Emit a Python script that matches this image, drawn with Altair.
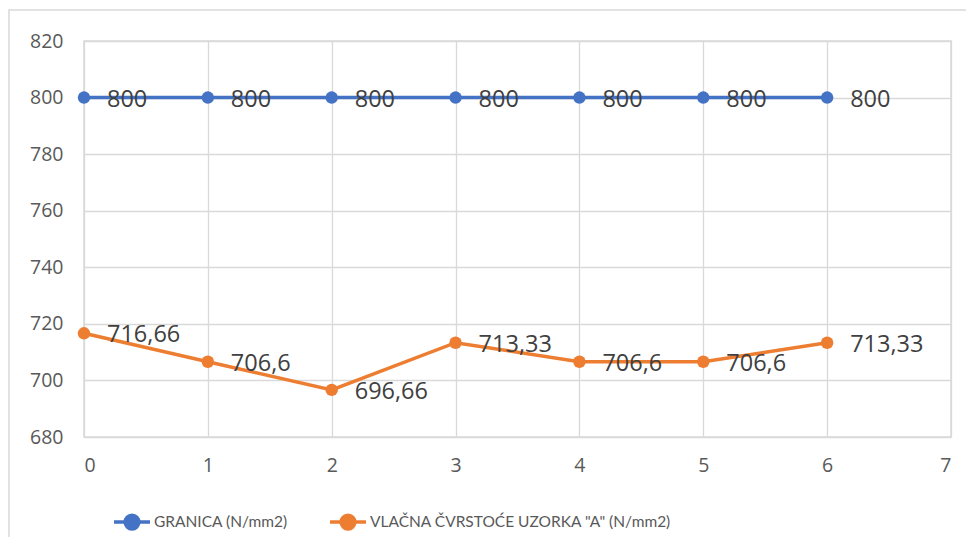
import altair as alt
import pandas as pd

x_vals = [0, 1, 2, 3, 4, 5, 6]
granica = [800, 800, 800, 800, 800, 800, 800]
vlacna = [716.66, 706.6, 696.66, 713.33, 706.6, 706.6, 713.33]
series = ["GRANICA (N/mm2)", 'VLAČNA ČVRSTOĆE UZORKA "A" (N/mm2)']
colors = ["#4472C4", "#ED7D31"]
y_ticks = [680, 700, 720, 740, 760, 780, 800, 820]
x_ticks = [0, 1, 2, 3, 4, 5, 6, 7]

rows = []
for name, vals in zip(series, [granica, vlacna]):
    for x, v in zip(x_vals, vals):
        rows.append({"x": x, "y": v, "s": name, "lab": f"{v:g}".replace(".", ",")})
df = pd.DataFrame(rows)

FONT = "Open Sans"
LFONT = "Lato"
AX = "#595959"
GRID = "#D9D9D9"

xs = alt.X("x:Q", scale=alt.Scale(domain=[0, 7], nice=False),
           axis=alt.Axis(values=x_ticks, title=None, grid=True, domain=False, ticks=False,
                         labelPadding=19, labelFontSize=19.5, labelColor=AX, labelFont=FONT,
                         gridColor=GRID, gridWidth=1.3))
ys = alt.Y("y:Q", scale=alt.Scale(domain=[680, 820], nice=False, zero=False),
           axis=alt.Axis(values=y_ticks, title=None, grid=True, domain=False, ticks=False,
                         labelPadding=21, labelFontSize=19.5, labelColor=AX, labelFont=FONT,
                         gridColor=GRID, gridWidth=1.3))
cscale = alt.Scale(domain=series, range=colors)

sym = "M-1,0L1,0M-0.38,0A0.38,0.38,0,1,1,0.38,0A0.38,0.38,0,1,1,-0.38,0Z"

base = alt.Chart(df)
line = base.mark_line(strokeWidth=3.5, point=alt.OverlayMarkDef(filled=True, size=155, opacity=1)).encode(
    x=xs, y=ys,
    color=alt.Color("s:N", scale=cscale, sort=series,
                    legend=alt.Legend(title=None, orient="none", legendX=28, legendY=461,
                                      direction="horizontal", symbolType=sym, symbolSize=1296,
                                      symbolStrokeWidth=3.5, labelFontSize=15.5, labelFont=LFONT,
                                      labelColor=AX, columnPadding=35, labelOffset=2, padding=0,
                                      labelLimit=600, symbolOpacity=1)),
)
txt = base.mark_text(align="left", baseline="middle", dx=23, dy=2, fontSize=23.5,
                     font=FONT, color="#404040").encode(x=xs, y=ys, text="lab:N")

border = alt.Chart(pd.DataFrame({"a": [0]})).mark_rect(
    fill=None, stroke=GRID, strokeWidth=1.5).encode(
    x=alt.value(-75), x2=alt.value(2000), y=alt.value(-31), y2=alt.value(2000))

chart = alt.layer(border, line, txt).properties(
    width=867, height=396,
    autosize=alt.AutoSizeParams(type="none"),
    padding={"left": 76, "top": 33, "right": 15, "bottom": 100},
    background="white",
).configure_view(stroke=GRID, strokeWidth=1.5)

chart.save("out.html", embed_options={"renderer": "svg", "actions": False})
